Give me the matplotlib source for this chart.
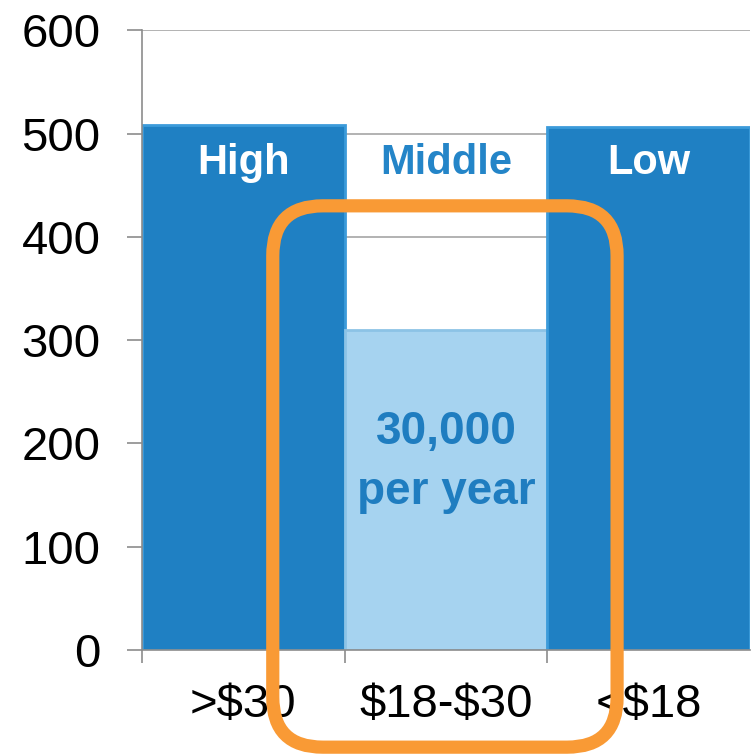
import matplotlib
matplotlib.use("Agg")
import matplotlib.pyplot as plt
from matplotlib.patches import FancyBboxPatch

# data
categories = [">$30", "$18-$30", "<$18"]
values = [508, 310, 506]
groups = ["High", "Middle", "Low"]
middle_note = "30,000\nper year"

bar_colors = ["#1F80C3", "#A6D3F0", "#1F80C3"]
edge_colors = ["#3C9BDA", "#8CC3E6", "#3C9BDA"]
group_colors = ["white", "#2485C8", "white"]

plt.rcParams["font.family"] = ["Liberation Sans", "DejaVu Sans"]
plt.rcParams["text.parse_math"] = False

fig = plt.figure(figsize=(7.52, 7.55), dpi=100)
ax = fig.add_axes([0.189, 0.139, 0.808, 0.821])

x = list(range(len(categories)))
ax.bar(x, values, width=1.0, color=bar_colors, edgecolor=edge_colors,
       linewidth=2, zorder=2)

ax.set_xlim(-0.5, 2.5)
ax.set_ylim(0, 600)
ax.set_yticks(range(0, 601, 100))
ax.yaxis.grid(True, color="#A6A6A6", linewidth=1.2, zorder=0)
ax.set_axisbelow(True)

# ticks sit between categories, labels in the middle
ax.set_xticks([-0.5, 0.5, 1.5])
ax.set_xticklabels([])
ax.set_xticks(x, minor=True)
ax.set_xticklabels(categories, minor=True)
ax.tick_params(axis="x", which="major", length=9, width=1.2, color="#8C8C8C")
ax.tick_params(axis="x", which="minor", length=0, pad=24, labelsize=34)
ax.tick_params(axis="y", length=11, width=1.2, color="#8C8C8C", pad=19,
               labelsize=34)

for s in ["top", "right"]:
    ax.spines[s].set_visible(False)
for s in ["left", "bottom"]:
    ax.spines[s].set_color("#8C8C8C")
    ax.spines[s].set_linewidth(1.2)

for i, g in enumerate(groups):
    ax.text(x[i], 471, g, ha="center", va="center", fontsize=30,
            fontweight="bold", color=group_colors[i], zorder=4)

ax.text(x[1], 182, middle_note, ha="center", va="center", fontsize=33,
        fontweight="bold", color="#1F7DC0", linespacing=1.45, zorder=4)

# orange rounded highlight box (data units)
box_x0, box_x1 = 0.145, 1.845
box_y0, box_y1 = -94, 430
px_per_x = 202.5
px_per_y = 620 / 600
radius = 50 / px_per_x
box = FancyBboxPatch((box_x0, box_y0), box_x1 - box_x0, box_y1 - box_y0,
                     boxstyle=f"round,pad=0,rounding_size={radius}",
                     mutation_aspect=px_per_x / px_per_y,
                     facecolor="none", edgecolor="#F99A35", linewidth=9.5,
                     clip_on=False, zorder=5)
ax.add_patch(box)

fig.savefig("out.png", dpi=100)
